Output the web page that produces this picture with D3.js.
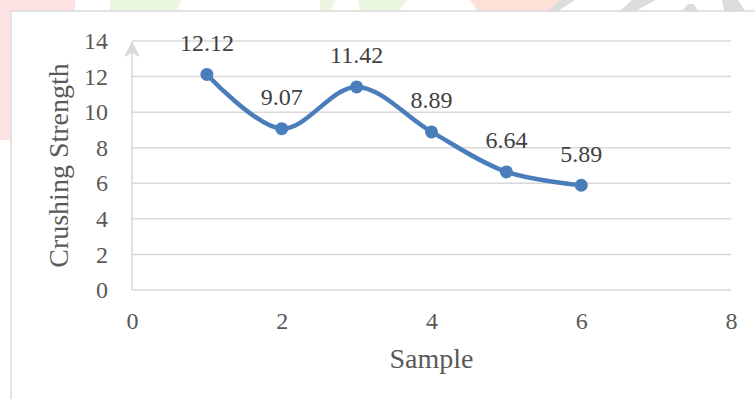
<!DOCTYPE html>
<html>
<head>
<meta charset="utf-8">
<script src="https://cdn.jsdelivr.net/npm/d3@7"></script>
<style>
  html, body { margin: 0; padding: 0; background: #fff; }
  svg { display: block; }
</style>
</head>
<body>
<svg id="chart" width="755" height="399"></svg>
<script>
// Crushing strength per sample
const samples = [1, 2, 3, 4, 5, 6];
const strength = [12.12, 9.07, 11.42, 8.89, 6.64, 5.89];
const xTicks = [0, 2, 4, 6, 8];
const yTicks = [0, 2, 4, 6, 8, 10, 12, 14];
const xTitle = "Sample";
const yTitle = "Crushing Strength";

const W = 755, H = 399;
const svg = d3.select("#chart");
const serif = "'Liberation Serif', 'DejaVu Serif', serif";

// faint page decoration peeking out above and left of the chart frame
const deco = svg.append("g");
const decoShapes = [
  {pts: [[0,0],[75,0],[75,11],[0,11]], c: "#fde3e3"},
  {pts: [[0,11],[10,11],[10,140],[0,140]], c: "#fde3e3"},
  {pts: [[110,0],[182,0],[176,11],[110,11]], c: "#ebf6e1"},
  {pts: [[320,0],[336,0],[330,11],[320,11]], c: "#ebf6e1"},
  {pts: [[358,0],[408,0],[398,11],[360,11]], c: "#ebf6e1"},
  {pts: [[470,0],[562,0],[550,11],[478,11]], c: "#fde0d8"},
  {pts: [[560,0],[575,0],[558,11],[548,11]], c: "#dcdcdc"},
  {pts: [[632,0],[656,0],[635,11],[620,11]], c: "#dcdcdc"},
  {pts: [[688,4],[694,4],[698,11],[682,11]], c: "#dcdcdc"},
  {pts: [[722,0],[738,0],[745,11],[724,11]], c: "#dcdcdc"}
];
deco.selectAll("polygon").data(decoShapes).join("polygon")
  .attr("points", d => d.pts.map(p => p.join(",")).join(" "))
  .attr("fill", d => d.c);

// chart frame
svg.append("rect")
  .attr("x", 11).attr("y", 11).attr("width", W).attr("height", H)
  .attr("fill", "#fff").attr("stroke", "#d9d9d9").attr("stroke-width", 1.5);

const x = d3.scaleLinear().domain([0, 8]).range([132, 731]);
const y = d3.scaleLinear().domain([0, 14]).range([290, 41]);

// horizontal gridlines
svg.append("g").selectAll("line").data(yTicks).join("line")
  .attr("x1", x(0)).attr("x2", x(8))
  .attr("y1", d => y(d)).attr("y2", d => y(d))
  .attr("stroke", "#d9d9d9").attr("stroke-width", 1.5);

// vertical axis with arrow head
svg.append("line")
  .attr("x1", x(0)).attr("x2", x(0))
  .attr("y1", y(0)).attr("y2", y(14) + 6)
  .attr("stroke", "#d9d9d9").attr("stroke-width", 1.5);
svg.append("path")
  .attr("d", `M${x(0)},${y(14)} L${x(0) + 8},${y(14) + 16} L${x(0)},${y(14) + 12} L${x(0) - 8},${y(14) + 16} Z`)
  .attr("fill", "#d9d9d9");

// tick labels
const yAxis = d3.axisLeft(y).tickValues(yTicks).tickSize(0).tickPadding(0).tickFormat(d3.format("d"));
const gy = svg.append("g").attr("transform", `translate(108,0)`).call(yAxis);
gy.select(".domain").remove();
gy.selectAll("text").attr("font-family", serif).attr("font-size", 24).attr("fill", "#595959");

const xAxis = d3.axisBottom(x).tickValues(xTicks).tickSize(0).tickPadding(0).tickFormat(d3.format("d"));
const gx = svg.append("g").attr("transform", `translate(0,0)`).call(xAxis);
gx.select(".domain").remove();
gx.selectAll("text").attr("dy", null).attr("y", 329)
  .attr("font-family", serif).attr("font-size", 24).attr("fill", "#595959");

// axis titles
svg.append("text")
  .attr("x", (x(0) + x(8)) / 2).attr("y", 368)
  .attr("text-anchor", "middle")
  .attr("font-family", serif).attr("font-size", 28).attr("fill", "#595959")
  .text(xTitle);
svg.append("text")
  .attr("transform", `translate(68,${(y(0) + y(14)) / 2}) rotate(-90)`)
  .attr("text-anchor", "middle")
  .attr("font-family", serif).attr("font-size", 28).attr("fill", "#595959")
  .text(yTitle);

// smoothed series line
const pts = samples.map((s, i) => ({s, v: strength[i]}));
const line = d3.line().x(d => x(d.s)).y(d => y(d.v)).curve(d3.curveCatmullRom.alpha(0.5));
svg.append("path").datum(pts)
  .attr("d", line)
  .attr("fill", "none").attr("stroke", "#4a7ebb").attr("stroke-width", 4.5)
  .attr("stroke-linecap", "round").attr("stroke-linejoin", "round");

svg.append("g").selectAll("circle").data(pts).join("circle")
  .attr("cx", d => x(d.s)).attr("cy", d => y(d.v)).attr("r", 6.5)
  .attr("fill", "#4a7ebb");

// data labels
svg.append("g").selectAll("text").data(pts).join("text")
  .attr("x", d => x(d.s)).attr("y", d => y(d.v) - 23.5)
  .attr("text-anchor", "middle")
  .attr("font-family", serif).attr("font-size", 24).attr("fill", "#404040")
  .text(d => d.v.toFixed(2));
</script>
</body>
</html>
